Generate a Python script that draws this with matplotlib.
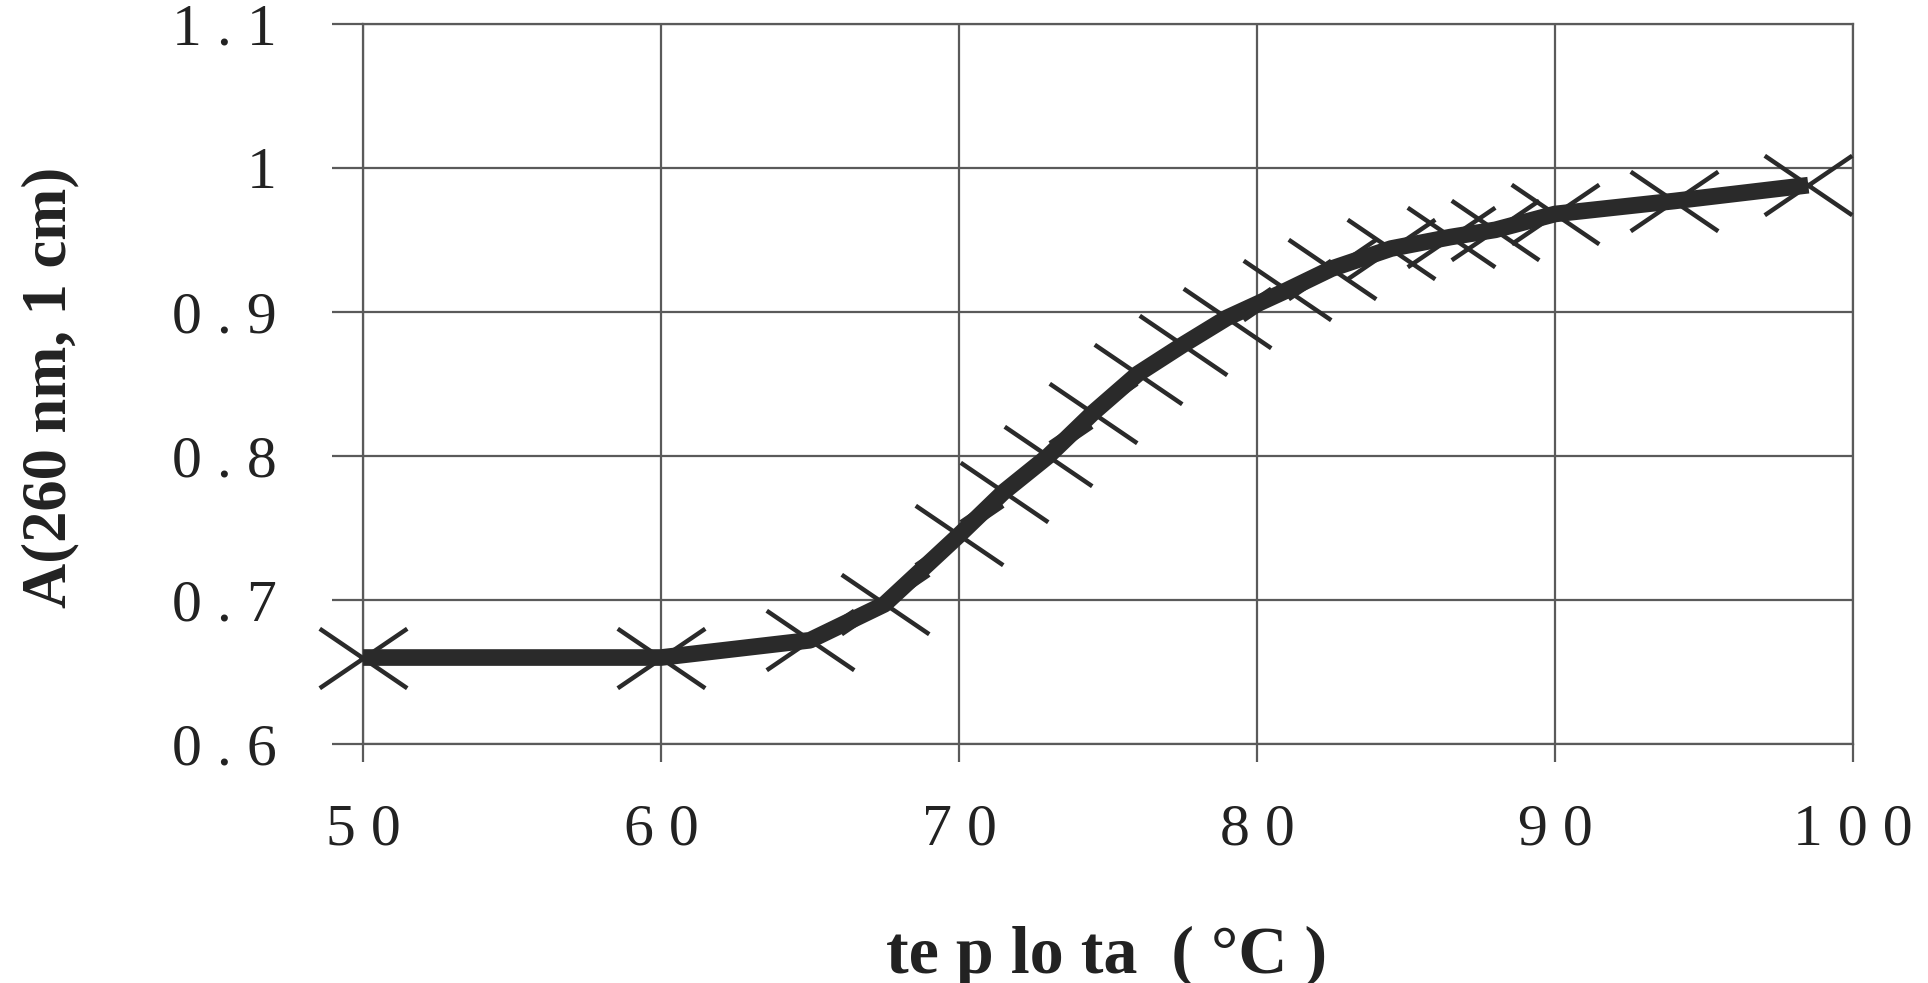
import matplotlib.pyplot as plt
from matplotlib.path import Path

# data
temperature = [50, 60, 65, 67.5, 70, 71.5, 73, 74.5, 76, 77.5, 79, 81, 82.5,
               84.5, 86.5, 88, 90, 94, 98.5]
absorbance = [0.66, 0.66, 0.672, 0.697, 0.745, 0.775, 0.80, 0.83, 0.857,
              0.877, 0.896, 0.915, 0.93, 0.944, 0.952, 0.957, 0.968, 0.977,
              0.988]

x_ticks = [50, 60, 70, 80, 90, 100]
x_tick_labels = ["5 0", "6 0", "7 0", "8 0", "9 0", "1 0 0"]
y_ticks = [0.6, 0.7, 0.8, 0.9, 1.0, 1.1]
y_tick_labels = ["0 . 6", "0 . 7", "0 . 8", "0 . 9", "1", "1 . 1"]

grid_col = "#5a5a5a"
ink = "#2a2a2a"

plt.rcParams["font.family"] = ["Liberation Serif", "DejaVu Serif"]

# wide flat "x" marker
cross = Path([(-1, -0.68), (1, 0.68), (-1, 0.68), (1, -0.68)],
             [Path.MOVETO, Path.LINETO, Path.MOVETO, Path.LINETO])

fig = plt.figure(figsize=(19.28, 9.83), dpi=100)
ax = fig.add_axes([0.1883, 0.2432, 0.7728, 0.7325])

ax.plot(temperature, absorbance, color=ink, lw=12, solid_capstyle="butt",
        solid_joinstyle="round", zorder=3, clip_on=False)
ax.plot(temperature, absorbance, ls="none", marker=cross, ms=63,
        mec=ink, mew=3.2, zorder=4, clip_on=False)

ax.set_xlim(50, 100)
ax.set_ylim(0.6, 1.1)
ax.set_xticks(x_ticks)
ax.set_xticklabels(x_tick_labels)
ax.set_yticks(y_ticks)
ax.set_yticklabels(y_tick_labels)

ax.grid(True, color=grid_col, lw=1.6)
ax.set_axisbelow(True)
for s in ax.spines.values():
    s.set_color(grid_col)
    s.set_linewidth(1.6)

ax.tick_params(axis="x", length=13, width=1.6, color=grid_col, pad=30,
               labelsize=43, labelcolor="#222222")
ax.tick_params(axis="y", length=22, width=1.6, color=grid_col, pad=40,
               labelsize=43, labelcolor="#222222")

fig.text(0.026, 0.606, "A(260 nm, 1 cm)", rotation=90, ha="center",
         va="center", fontsize=45, fontweight="bold", color="#222222")
fig.text(0.574, 0.011, "te p lo ta  ( °C )", ha="center", va="baseline",
         fontsize=49, fontweight="bold", color="#222222")

plt.savefig("out.png", dpi=100)
plt.close()
